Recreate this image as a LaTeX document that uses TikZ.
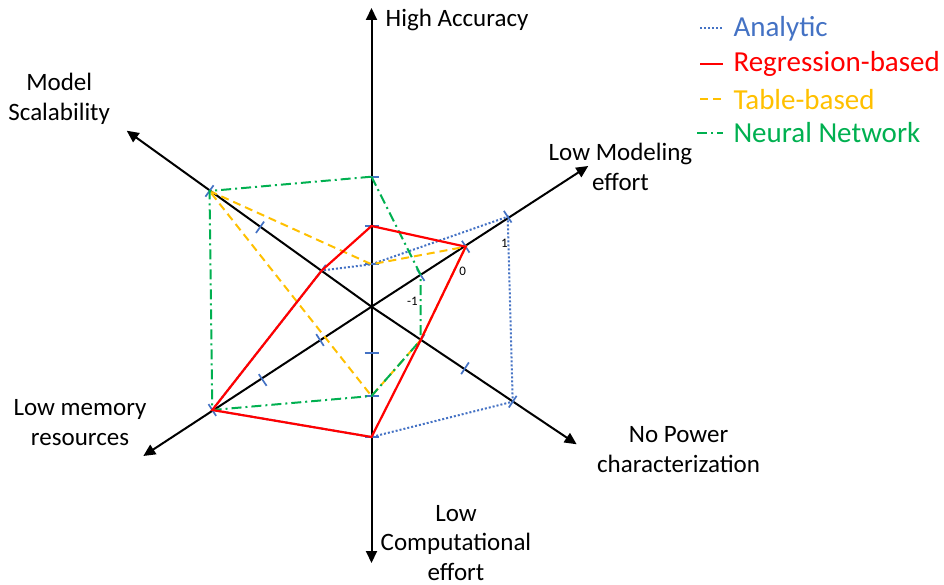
\documentclass[tikz,border=0pt]{standalone}
\usepackage{fontspec}
\setmainfont{Carlito}
\usetikzlibrary{arrows.meta,calc}
\definecolor{anablue}{HTML}{4472C4}
\definecolor{regred}{HTML}{FF0000}
\definecolor{tabyellow}{HTML}{FFC000}
\definecolor{nngreen}{HTML}{00B050}
\tikzset{
  axis/.style={line width=2pt,-{Triangle[length=12pt,width=11pt]}},
  tickmark/.style={anablue,line width=1.7pt},
  axlabel/.style={align=center,inner sep=0pt,font=\fontsize{25}{29.5}\selectfont},
  ticklabel/.style={inner sep=0pt,font=\fontsize{13}{15}\selectfont},
  lgtext/.style={anchor=west,inner sep=0pt,font=\fontsize{29}{34}\selectfont},
  analytic/.style={anablue,line width=2pt,dash pattern=on 2pt off 2pt},
  regression/.style={regred,line width=2.2pt},
  tablebased/.style={tabyellow,line width=2pt,dash pattern=on 8pt off 5pt},
  neural/.style={nngreen,line width=2pt,dash pattern=on 10pt off 4pt on 2pt off 4pt},
}
\begin{document}
\begin{tikzpicture}[x=1pt,y=-1pt]
\useasboundingbox (0,0) rectangle (944,585);
\coordinate (O) at (371.5,306.7);
\coordinate (accend) at (371.5,8);
\coordinate (comend) at (371.5,563);
\coordinate (modend) at (588.3,166);
\coordinate (memend) at (143.3,456);
\coordinate (scaend) at (126.7,130.7);
\coordinate (powend) at (576.7,444.3);
\coordinate (accm) at (371.5,264.3);
\coordinate (acc0) at (371.5,226);
\coordinate (accp) at (371.5,176.7);
\coordinate (modm) at (420.7,275);
\coordinate (mod0) at (465.7,246.7);
\coordinate (modp) at (507.7,216.7);
\coordinate (powm) at (420.7,340);
\coordinate (pow0) at (465,368.3);
\coordinate (powp) at (512.7,401.7);
\coordinate (comm) at (371.5,352.7);
\coordinate (com0) at (371.5,396);
\coordinate (comp) at (371.5,437);
\coordinate (memm) at (320,340);
\coordinate (mem0) at (262.7,380);
\coordinate (memp) at (212.3,410);
\coordinate (scam) at (321.7,270.5);
\coordinate (sca0) at (260,227.3);
\coordinate (scap) at (209.5,191);
\foreach \e in {accend,comend,modend,memend,scaend,powend}
  \draw[axis] (O) -- (\e);
\foreach \c in {accm,acc0,accp,modm,mod0,modp,powm,pow0,powp,comm,com0,comp,memm,mem0,memp,scam,sca0,scap}
  \draw[tickmark] ($(\c)!7pt!90:(O)$) -- ($(\c)!7pt!-90:(O)$);
\node[ticklabel] (tkm) at (412.3,301.7) {-1};
\node[ticklabel] (tk0) at (462.7,271.7) {0};
\node[ticklabel] (tkp) at (504.3,243.3) {1};
\draw[analytic] (accm) -- (modp) -- (powp) -- (comp) -- (memp) -- (scam) -- cycle;
\draw[tablebased] (scap) -- (accm) -- (mod0) -- (powm) -- (com0) -- cycle;
\draw[neural] (accp) -- (modm) -- (powm) -- (com0) -- (memp) -- (scap) -- cycle;
\draw[regression] (acc0) -- (mod0) -- (powm) -- (comp) -- (memp) -- (scam) -- cycle;
\node[axlabel,anchor=west] (acclab) at (385.5,20) {High Accuracy};
\node[axlabel] (scalab) at (59.2,99) {Model\\Scalability};
\node[axlabel] (modlab) at (620.5,166.7) {Low Modeling\\effort};
\node[axlabel] (powlab) at (678.6,449.7) {No Power\\characterization};
\node[axlabel] (memlab) at (80,422.5) {Low memory\\resources};
\node[axlabel] (comlab) at (456,543) {Low\\Computational\\effort};
\node[lgtext,anablue] (lgana) at (733.3,28.5) {Analytic};
\node[lgtext,regred] (lgreg) at (733.3,64) {Regression-based};
\node[lgtext,tabyellow] (lgtab) at (733.3,99.5) {Table-based};
\node[lgtext,nngreen] (lgnn) at (733.3,133) {Neural Network};
\draw[analytic] ([xshift=-33pt]lgana.west) -- ([xshift=-10pt]lgana.west);
\draw[regression] ([xshift=-33pt]lgreg.west) -- ([xshift=-10pt]lgreg.west);
\draw[tablebased] ([xshift=-33pt]lgtab.west) -- ([xshift=-10pt]lgtab.west);
\draw[neural] ([xshift=-36pt]lgnn.west) -- ([xshift=-10pt]lgnn.west);
\end{tikzpicture}
\end{document}
